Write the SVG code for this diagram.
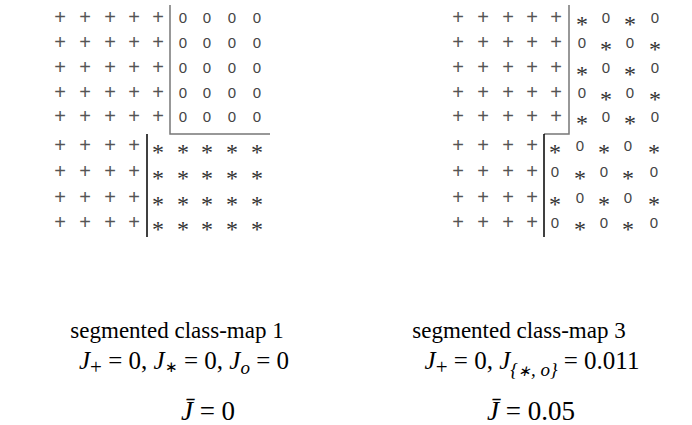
<svg xmlns="http://www.w3.org/2000/svg" width="692" height="425" viewBox="0 0 692 425">
<style>
.p{font-family:"Liberation Sans",sans-serif;font-size:20px;fill:#555;text-anchor:middle}
.o{font-family:"Liberation Sans",sans-serif;font-size:15px;fill:#444;text-anchor:middle}
.s{font-family:"Liberation Serif",serif;font-size:24px;fill:#333;text-anchor:middle}
.cap{font-family:"Liberation Serif",serif;font-size:23px;fill:#000;text-anchor:middle}
.m{font-family:"Liberation Serif",serif;font-size:25px;fill:#000;text-anchor:middle}
.b{font-size:27px}
.i{font-style:italic}
.sub{font-size:19px}
.sp{font-size:21px}
.sa{font-size:15px}
.g{stroke:#777;stroke-width:1.5;fill:none}
.k{stroke:#000;stroke-width:1.5;fill:none}
</style>
<defs>
<text id="pl" class="p" y="7">+</text>
<text id="ci" class="o" y="5.5">0</text>
<text id="st" class="s" y="14.5">*</text>
</defs>
<g id="map1">
<g id="map1-plus">
<use href="#pl" x="60" y="17"/><use href="#pl" x="85" y="17"/><use href="#pl" x="110" y="17"/><use href="#pl" x="134" y="17"/><use href="#pl" x="158" y="17"/>
<use href="#pl" x="60" y="42"/><use href="#pl" x="85" y="42"/><use href="#pl" x="110" y="42"/><use href="#pl" x="134" y="42"/><use href="#pl" x="158" y="42"/>
<use href="#pl" x="60" y="67"/><use href="#pl" x="85" y="67"/><use href="#pl" x="110" y="67"/><use href="#pl" x="134" y="67"/><use href="#pl" x="158" y="67"/>
<use href="#pl" x="60" y="92"/><use href="#pl" x="85" y="92"/><use href="#pl" x="110" y="92"/><use href="#pl" x="134" y="92"/><use href="#pl" x="158" y="92"/>
<use href="#pl" x="60" y="116"/><use href="#pl" x="85" y="116"/><use href="#pl" x="110" y="116"/><use href="#pl" x="134" y="116"/><use href="#pl" x="158" y="116"/>
<use href="#pl" x="60" y="145"/><use href="#pl" x="85" y="145"/><use href="#pl" x="110" y="145"/><use href="#pl" x="134" y="145"/>
<use href="#pl" x="60" y="171"/><use href="#pl" x="85" y="171"/><use href="#pl" x="110" y="171"/><use href="#pl" x="134" y="171"/>
<use href="#pl" x="60" y="197"/><use href="#pl" x="85" y="197"/><use href="#pl" x="110" y="197"/><use href="#pl" x="134" y="197"/>
<use href="#pl" x="60" y="222"/><use href="#pl" x="85" y="222"/><use href="#pl" x="110" y="222"/><use href="#pl" x="134" y="222"/>
</g>
<g id="map1-o">
<use href="#ci" x="183" y="17"/><use href="#ci" x="207" y="17"/><use href="#ci" x="232" y="17"/><use href="#ci" x="257" y="17"/>
<use href="#ci" x="183" y="42"/><use href="#ci" x="207" y="42"/><use href="#ci" x="232" y="42"/><use href="#ci" x="257" y="42"/>
<use href="#ci" x="183" y="67"/><use href="#ci" x="207" y="67"/><use href="#ci" x="232" y="67"/><use href="#ci" x="257" y="67"/>
<use href="#ci" x="183" y="92"/><use href="#ci" x="207" y="92"/><use href="#ci" x="232" y="92"/><use href="#ci" x="257" y="92"/>
<use href="#ci" x="183" y="116"/><use href="#ci" x="207" y="116"/><use href="#ci" x="232" y="116"/><use href="#ci" x="257" y="116"/>
</g>
<g id="map1-star">
<use href="#st" x="158" y="145"/><use href="#st" x="183" y="145"/><use href="#st" x="207" y="145"/><use href="#st" x="232" y="145"/><use href="#st" x="257" y="145"/>
<use href="#st" x="158" y="171"/><use href="#st" x="183" y="171"/><use href="#st" x="207" y="171"/><use href="#st" x="232" y="171"/><use href="#st" x="257" y="171"/>
<use href="#st" x="158" y="197"/><use href="#st" x="183" y="197"/><use href="#st" x="207" y="197"/><use href="#st" x="232" y="197"/><use href="#st" x="257" y="197"/>
<use href="#st" x="158" y="222"/><use href="#st" x="183" y="222"/><use href="#st" x="207" y="222"/><use href="#st" x="232" y="222"/><use href="#st" x="257" y="222"/>
</g>
</g>
<g id="map3">
<g id="map3-plus">
<use href="#pl" x="458" y="17"/><use href="#pl" x="483" y="17"/><use href="#pl" x="508" y="17"/><use href="#pl" x="532" y="17"/><use href="#pl" x="556" y="17"/>
<use href="#pl" x="458" y="42"/><use href="#pl" x="483" y="42"/><use href="#pl" x="508" y="42"/><use href="#pl" x="532" y="42"/><use href="#pl" x="556" y="42"/>
<use href="#pl" x="458" y="67"/><use href="#pl" x="483" y="67"/><use href="#pl" x="508" y="67"/><use href="#pl" x="532" y="67"/><use href="#pl" x="556" y="67"/>
<use href="#pl" x="458" y="92"/><use href="#pl" x="483" y="92"/><use href="#pl" x="508" y="92"/><use href="#pl" x="532" y="92"/><use href="#pl" x="556" y="92"/>
<use href="#pl" x="458" y="116"/><use href="#pl" x="483" y="116"/><use href="#pl" x="508" y="116"/><use href="#pl" x="532" y="116"/><use href="#pl" x="556" y="116"/>
<use href="#pl" x="458" y="145"/><use href="#pl" x="483" y="145"/><use href="#pl" x="508" y="145"/><use href="#pl" x="532" y="145"/>
<use href="#pl" x="458" y="171"/><use href="#pl" x="483" y="171"/><use href="#pl" x="508" y="171"/><use href="#pl" x="532" y="171"/>
<use href="#pl" x="458" y="197"/><use href="#pl" x="483" y="197"/><use href="#pl" x="508" y="197"/><use href="#pl" x="532" y="197"/>
<use href="#pl" x="458" y="222"/><use href="#pl" x="483" y="222"/><use href="#pl" x="508" y="222"/><use href="#pl" x="532" y="222"/>
</g>
<g id="map3-mixed">
<use href="#st" x="582" y="17"/><use href="#ci" x="606" y="17"/><use href="#st" x="630" y="17"/><use href="#ci" x="655" y="17"/>
<use href="#ci" x="582" y="42"/><use href="#st" x="606" y="42"/><use href="#ci" x="630" y="42"/><use href="#st" x="655" y="42"/>
<use href="#st" x="582" y="67"/><use href="#ci" x="606" y="67"/><use href="#st" x="630" y="67"/><use href="#ci" x="655" y="67"/>
<use href="#ci" x="582" y="92"/><use href="#st" x="606" y="92"/><use href="#ci" x="630" y="92"/><use href="#st" x="655" y="92"/>
<use href="#st" x="582" y="116"/><use href="#ci" x="606" y="116"/><use href="#st" x="630" y="116"/><use href="#ci" x="655" y="116"/>
<use href="#st" x="555" y="145"/><use href="#ci" x="580" y="145"/><use href="#st" x="604" y="145"/><use href="#ci" x="628" y="145"/><use href="#st" x="654" y="145"/>
<use href="#ci" x="555" y="171"/><use href="#st" x="580" y="171"/><use href="#ci" x="604" y="171"/><use href="#st" x="628" y="171"/><use href="#ci" x="654" y="171"/>
<use href="#st" x="555" y="197"/><use href="#ci" x="580" y="197"/><use href="#st" x="604" y="197"/><use href="#ci" x="628" y="197"/><use href="#st" x="654" y="197"/>
<use href="#ci" x="555" y="222"/><use href="#st" x="580" y="222"/><use href="#ci" x="604" y="222"/><use href="#st" x="628" y="222"/><use href="#ci" x="654" y="222"/>
</g>
</g>
<g id="boundaries">
<path class="g" d="M170 5V134H270"/>
<path class="k" d="M147 134V237"/>
<path class="g" d="M569 5V134H544"/>
<path class="k" d="M544 134V237"/>
</g>
<g id="labels">
<text class="cap" x="177" y="338">segmented class-map 1</text>
<text class="cap" x="519" y="338">segmented class-map 3</text>
<text class="m" x="184" y="369"><tspan class="i">J</tspan><tspan class="sp" dy="5">+</tspan><tspan dy="-5"> = 0, </tspan><tspan class="i">J</tspan><tspan class="sa" dy="3">∗</tspan><tspan dy="-3"> = 0, </tspan><tspan class="i">J</tspan><tspan class="sub i" dy="5">o</tspan><tspan dy="-5"> = 0</tspan></text>
<text class="m" x="532" y="369"><tspan class="i">J</tspan><tspan class="sp" dy="5">+</tspan><tspan dy="-5"> = 0, </tspan><tspan class="i">J</tspan><tspan class="sub i" dy="7">{<tspan class="sa">∗</tspan>, o}</tspan><tspan dy="-7"> = 0.011</tspan></text>
<text class="m b" x="208" y="420"><tspan class="i">J̄</tspan> = 0</text>
<text class="m b" x="531" y="420"><tspan class="i">J̄</tspan> = 0.05</text>
</g>
</svg>
